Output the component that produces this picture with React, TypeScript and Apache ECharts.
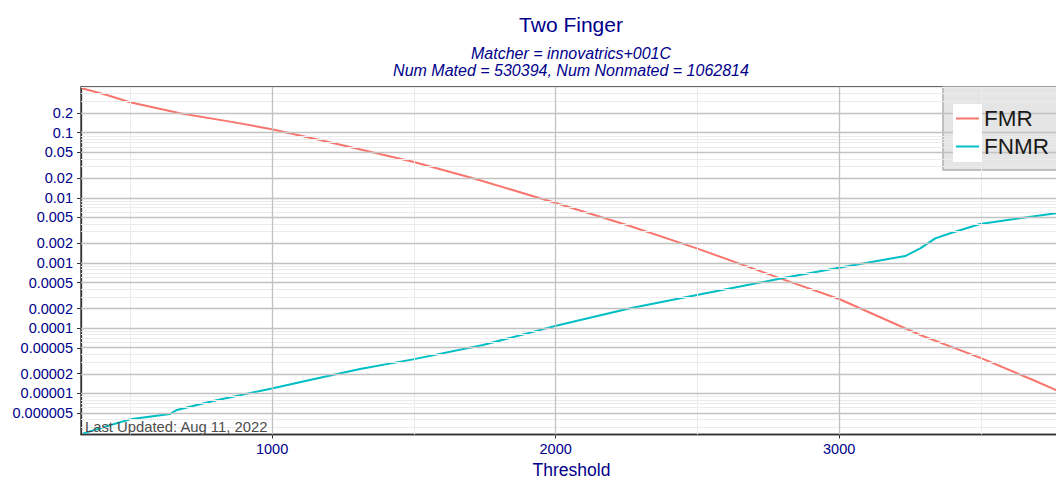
import React, { useEffect, useRef } from "react";
import * as echarts from "echarts";

const FONT = '"Liberation Sans", Arial, Helvetica, sans-serif';
const NAVY = "#00008B";

// FMR curve (threshold, rate)
const fmrThreshold = [329, 417, 499, 675, 852, 999, 1169, 1497, 1709, 1998, 2251, 2498, 2792, 3000, 3286, 3503, 3684, 3765, 3790];
const fmrValue = [0.481, 0.379, 0.293, 0.199, 0.148, 0.113, 0.0773, 0.0359, 0.02, 0.00843, 0.00383, 0.00168, 0.000582, 0.00028, 0.0000785, 0.0000344, 0.000016, 0.0000112, 0.0000102];

// FNMR curve (threshold, rate)
const fnmrThreshold = [334, 499, 640, 664, 792, 999, 1145, 1310, 1497, 1744, 1998, 2263, 2498, 2798, 3004, 3233, 3286, 3339, 3392, 3497, 3638, 3765, 3790];
const fnmrValue = [0.00000243, 0.00000399, 0.00000481, 0.00000555, 0.00000762, 0.0000119, 0.0000164, 0.0000236, 0.0000332, 0.0000551, 0.000108, 0.000202, 0.000323, 0.000582, 0.000853, 0.00128, 0.00168, 0.00239, 0.00286, 0.00397, 0.00486, 0.0058, 0.00595];

// Axis ticks
const yTickLabels = ["0.2", "0.1", "0.05", "0.02", "0.01", "0.005", "0.002", "0.001", "0.0005", "0.0002", "0.0001", "0.00005", "0.00002", "0.00001", "0.000005"];
const yMinorValues = [0.5, 0.4, 0.3, 0.09, 0.08, 0.07, 0.06, 0.04, 0.03, 0.009, 0.008, 0.007, 0.006, 0.004, 0.003, 0.0009, 0.0008, 0.0007, 0.0006, 0.0004, 0.0003, 0.00009, 0.00008, 0.00007, 0.00006, 0.00004, 0.00003, 0.000009, 0.000008, 0.000007, 0.000006, 0.000004, 0.000003];
const xTickValues = [1000, 2000, 3000];
const xMinorValues = [500, 1500, 2500, 3500];

const X_MIN = 326;
const X_MAX = 3786;
const Y_MIN_LOG = -5.632;
const Y_MAX_LOG = -0.2985;

export default function App() {
  const ref = useRef<HTMLDivElement>(null);

  useEffect(() => {
    if (!ref.current) return;
    const chart = echarts.init(ref.current, undefined, { renderer: "svg" });

    const yMajorLogs = yTickLabels.map((s) => Math.log10(parseFloat(s)));
    const labelFor = (v: number) => {
      for (let i = 0; i < yMajorLogs.length; i++) {
        if (Math.abs(yMajorLogs[i] - v) < 1e-6) return yTickLabels[i];
      }
      return "";
    };

    const fmrData = fmrThreshold.map((t, i) => [t, Math.log10(fmrValue[i])]);
    const fnmrData = fnmrThreshold.map((t, i) => [t, Math.log10(fnmrValue[i])]);

    const minorStyle = { color: "#ebebeb", width: 1, type: "solid" };
    const majorStyle = { color: "#c2c2c2", width: 1.3, type: "solid" };

    const gridLines: any[] = [
      ...yMinorValues.map((v) => ({ yAxis: Math.log10(v), lineStyle: minorStyle })),
      ...xMinorValues.map((v) => ({ xAxis: v, lineStyle: minorStyle })),
      ...yMajorLogs.map((v) => ({ yAxis: v, lineStyle: majorStyle })),
      ...xTickValues.map((v) => ({ xAxis: v, lineStyle: majorStyle })),
    ];

    chart.setOption({
      animation: false,
      grid: {
        left: 81,
        top: 87,
        right: -6,
        bottom: 42.5,
        show: true,
        borderColor: "#333333",
        borderWidth: 1.3,
        backgroundColor: "#ffffff",
        containLabel: false,
        outerBoundsMode: "none",
      },
      xAxis: {
        type: "value",
        min: X_MIN,
        max: X_MAX,
        splitLine: { show: false },
        axisLine: { show: true, lineStyle: { color: "#333333", width: 1.3 } },
        axisTick: { show: true, length: 4, customValues: xTickValues, lineStyle: { color: "#333333" } },
        axisLabel: {
          customValues: xTickValues,
          formatter: (v: number) => String(v),
          fontSize: 14.5,
          fontFamily: FONT,
          color: NAVY,
          margin: 7,
        },
        name: "Threshold",
        nameLocation: "middle",
        nameGap: 23,
        nameTextStyle: { fontSize: 17.5, lineHeight: 18, fontFamily: FONT, color: NAVY },
      },
      yAxis: {
        type: "value",
        min: Y_MIN_LOG,
        max: Y_MAX_LOG,
        splitLine: { show: false },
        axisLine: { show: true, lineStyle: { color: "#333333", width: 1.3 } },
        axisTick: { show: true, length: 4, customValues: yMajorLogs, lineStyle: { color: "#333333" } },
        axisLabel: {
          customValues: yMajorLogs,
          formatter: (v: number) => labelFor(v),
          fontSize: 14.5,
          fontFamily: FONT,
          color: NAVY,
          margin: 8,
        },
      },
      legend: {
        orient: "vertical",
        left: 956,
        top: 107,
        padding: 0,
        icon: "rect",
        itemWidth: 23,
        itemHeight: 2,
        itemGap: 5,
        data: ["FMR", "FNMR"],
        textStyle: { fontSize: 22.5, fontFamily: FONT, color: "#1a1a1a" },
        z: 10,
        selectedMode: false,
      },
      graphic: [
        {
          type: "rect",
          z: 5,
          shape: { x: 943, y: 87, width: 130, height: 83 },
          style: { fill: "#e5e5e5", stroke: "#b0b0b0", lineWidth: 1.5 },
        },
        {
          type: "rect",
          z: 6,
          shape: { x: 953, y: 104, width: 29, height: 58 },
          style: { fill: "#ffffff" },
        },
        {
          type: "text",
          z: 6,
          x: 571,
          y: 24,
          style: {
            text: "Two Finger",
            fontSize: 21,
            fontFamily: FONT,
            fill: NAVY,
            align: "center",
            textAlign: "center",
            verticalAlign: "middle",
            textVerticalAlign: "middle",
          },
        },
        {
          type: "text",
          z: 6,
          x: 571,
          y: 53,
          style: {
            text: "Matcher = innovatrics+001C",
            fontSize: 16,
            fontStyle: "italic",
            fontFamily: FONT,
            fill: NAVY,
            align: "center",
            textAlign: "center",
            verticalAlign: "middle",
            textVerticalAlign: "middle",
          },
        },
        {
          type: "text",
          z: 6,
          x: 571,
          y: 70.5,
          style: {
            text: "Num Mated = 530394, Num Nonmated = 1062814",
            fontSize: 16,
            fontStyle: "italic",
            fontFamily: FONT,
            fill: NAVY,
            align: "center",
            textAlign: "center",
            verticalAlign: "middle",
            textVerticalAlign: "middle",
          },
        },
        {
          type: "text",
          z: 6,
          x: 85,
          y: 427,
          style: {
            text: "Last Updated: Aug 11, 2022",
            fontSize: 14.8,
            fontFamily: FONT,
            fill: "#4d4d4d",
            align: "left",
            textAlign: "left",
            verticalAlign: "middle",
            textVerticalAlign: "middle",
          },
        },
      ],
      series: [
        {
          name: "grid",
          type: "line",
          data: fmrData,
          z: 1,
          silent: true,
          showSymbol: false,
          symbol: "none",
          lineStyle: { opacity: 0 },
          markLine: {
            silent: true,
            symbol: ["none", "none"],
            label: { show: false },
            data: gridLines,
          },
        },
        {
          name: "FMR",
          type: "line",
          data: fmrData,
          z: 3,
          symbol: "none",
          showSymbol: false,
          smooth: false,
          lineStyle: { color: "#F8766D", width: 2 },
          itemStyle: { color: "#F8766D" },
        },
        {
          name: "FNMR",
          type: "line",
          data: fnmrData,
          z: 3,
          symbol: "none",
          showSymbol: false,
          smooth: false,
          lineStyle: { color: "#00BFC4", width: 2 },
          itemStyle: { color: "#00BFC4" },
        },
      ],
    });

    return () => chart.dispose();
  }, []);

  return (
    <div
      ref={ref}
      style={{ position: "absolute", left: 0, top: 0, width: 1056, height: 477, background: "#ffffff" }}
    />
  );
}
